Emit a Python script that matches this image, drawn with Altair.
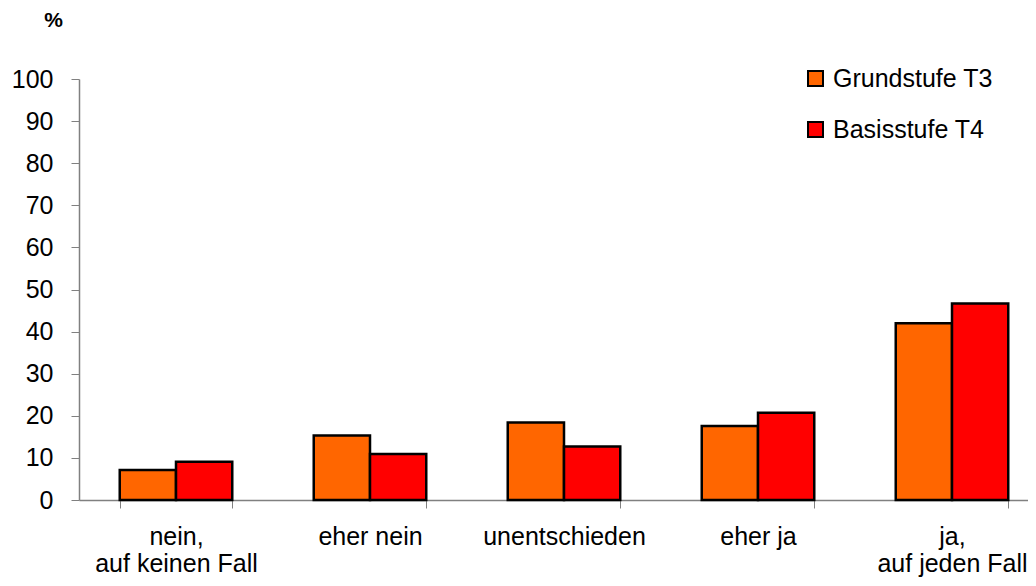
import altair as alt
import pandas as pd

categories = ["nein,\nauf keinen Fall", "eher nein", "unentschieden", "eher ja", "ja,\nauf jeden Fall"]
series = ["Grundstufe T3", "Basisstufe T4"]
grundstufe = [7.1, 15.3, 18.4, 17.6, 42.0]
basisstufe = [9.1, 10.9, 12.7, 20.7, 46.7]
y_ticks = [0, 10, 20, 30, 40, 50, 60, 70, 80, 90, 100]
colors = ["#FF6600", "#FF0000"]

rows = []
for c, g, b in zip(categories, grundstufe, basisstufe):
    rows.append({"cat": c, "series": series[0], "value": g})
    rows.append({"cat": c, "series": series[1], "value": b})
df = pd.DataFrame(rows)

FONT = "Liberation Sans"

chart = alt.Chart(df).mark_bar(stroke="black", strokeWidth=2.5).encode(
    x=alt.X("cat:N", sort=categories,
            scale=alt.Scale(paddingInner=0.42, paddingOuter=0.21, range=[0, 970]),
            axis=alt.Axis(title=None, labelAngle=0, tickBand="extent",
                          labelExpr="split(datum.label, '\\n')",
                          labelFontSize=25, labelFont=FONT, labelColor="black",
                          labelPadding=16, tickSize=8, domainColor="#808080",
                          tickColor="#808080", domainWidth=1.5, labelLineHeight=27)),
    xOffset=alt.XOffset("series:N", sort=series),
    y=alt.Y("value:Q", scale=alt.Scale(domain=[0, 100], nice=False),
            axis=alt.Axis(values=y_ticks, grid=False, tickSize=8,
                          labelFontSize=25, labelFont=FONT, labelColor="black",
                          labelPadding=18, domainColor="#808080", tickColor="#808080",
                          domainWidth=1.5,
                          title="%", titleAngle=0, titleX=-26, titleY=-59,
                          titleAlign="center", titleBaseline="middle",
                          titleFontSize=21, titleFont=FONT, titleFontWeight="bold")),
    color=alt.Color("series:N", sort=series,
                    scale=alt.Scale(domain=series, range=colors),
                    legend=alt.Legend(title=None, orient="none", legendX=724, legendY=-13,
                                      symbolType="square", symbolSize=225,
                                      symbolStrokeColor="black", symbolStrokeWidth=2,
                                      labelFontSize=25, labelFont=FONT, labelColor="black",
                                      labelOffset=5, rowPadding=25, padding=0)),
).properties(
    width=949, height=421,
    autosize=alt.AutoSizeParams(type="none"),
    padding={"left": 71, "top": 71, "right": 0, "bottom": 78},
).configure_view(stroke=None)

chart.save("out.html", embed_options={"renderer": "svg", "actions": False})
